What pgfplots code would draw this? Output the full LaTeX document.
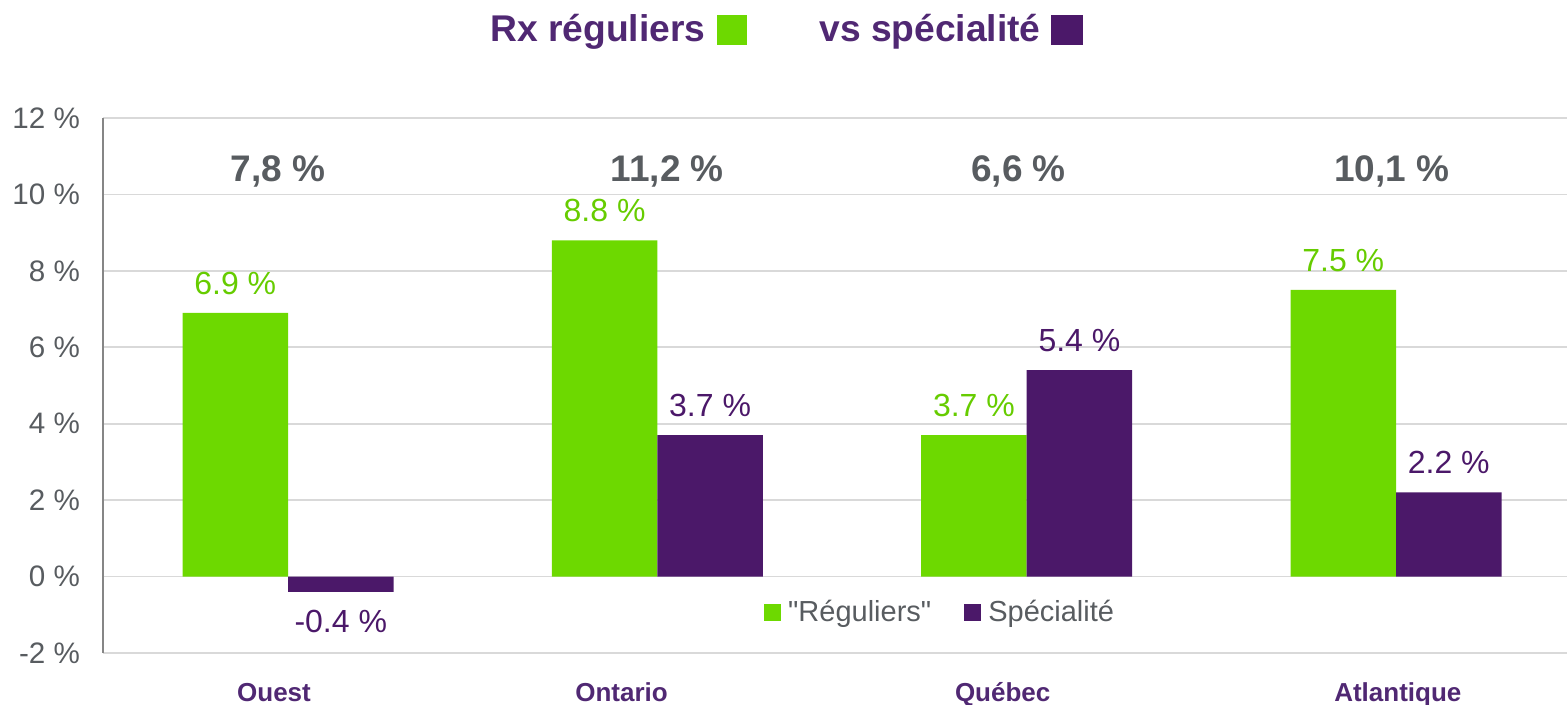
\documentclass[border=0pt]{standalone}
\usepackage{fontspec}
\setmainfont{Liberation Sans}
\usepackage{pgfplots}
\pgfplotsset{compat=1.18}

\definecolor{barvert}{RGB}{109,217,0}
\definecolor{barviolet}{RGB}{75,24,105}
\definecolor{valvert}{RGB}{102,204,0}
\definecolor{titreviolet}{RGB}{80,40,115}
\definecolor{textgris}{RGB}{88,92,96}
\definecolor{grille}{RGB}{217,217,217}
\definecolor{axegris}{RGB}{134,134,134}

\begin{document}
\begin{tikzpicture}
\useasboundingbox (-51.5pt,-26pt) rectangle (732pt,326.5pt);
\begin{axis}[
    scale only axis,
    width=732pt, height=267.5pt,
    xmin=-0.501, xmax=3.463,
    ymin=-2, ymax=12,
    ybar=0pt, bar width=52.75pt,
    xtick={-0.038,0.903,1.935,3.005},
    xticklabels={Ouest,Ontario,Québec,Atlantique},
    ytick={-2,0,...,12},
    major tick length=0pt,
    /pgf/number format/assume math mode=true,
    yticklabel={\pgfmathprintnumber{\tick}~\%},
    yticklabel style={font=\fontsize{14.8}{14.8}\selectfont, text=textgris, xshift=-8pt},
    xticklabel style={font=\bfseries\fontsize{13}{13}\selectfont, text=titreviolet, anchor=base, yshift=-24.5pt},
    axis lines*=left,
    axis line style={-},
    x axis line style={draw=grille, line width=0.8pt},
    y axis line style={draw=axegris, line width=1pt},
    ymajorgrids,
    grid style={draw=grille, line width=0.8pt},
    nodes near coords={\pgfmathprintnumber[fixed,fixed zerofill,precision=1]{\pgfplotspointmeta}~\%},
    nodes near coords style={font=\fontsize{16}{16}\selectfont, inner ysep=9pt},
    legend style={at={(0.5735,0.0766)}, anchor=center, draw=none, fill=none,
        font=\fontsize{14.5}{14.5}\selectfont, text=textgris,
        /tikz/every even column/.append style={column sep=13pt},
        nodes={inner xsep=3.5pt}},
    legend columns=2,
    legend image code/.code={\fill[#1] (0pt,-4.25pt) rectangle (8.5pt,4.25pt);},
]
\addplot[fill=barvert, draw=none, every node near coord/.append style={text=valvert}]
    coordinates {(0,6.9) (1,8.8) (2,3.7) (3,7.5)};
\addlegendentry{{\addfontfeature{Ligatures=TeXOff}"Réguliers"}}
\addplot[fill=barviolet, draw=none, every node near coord/.append style={text=barviolet}]
    coordinates {(0,-0.4) (1,3.7) (2,5.4) (3,2.2)};
\addlegendentry{Spécialité}

% totaux par région
\node[font=\bfseries\fontsize{18.5}{18.5}\selectfont, text=textgris] at (axis cs:-0.027,10.6) {7,8~\%};
\node[font=\bfseries\fontsize{18.5}{18.5}\selectfont, text=textgris] at (axis cs:1.027,10.6) {11,2~\%};
\node[font=\bfseries\fontsize{18.5}{18.5}\selectfont, text=textgris] at (axis cs:1.978,10.6) {6,6~\%};
\node[font=\bfseries\fontsize{18.5}{18.5}\selectfont, text=textgris] at (axis cs:2.989,10.6) {10,1~\%};
\end{axis}

% titre
\node[anchor=base west, inner sep=0pt, font=\bfseries\fontsize{18.6}{18.6}\selectfont, text=titreviolet]
    at (193.5pt,305.5pt)
    {Rx réguliers\hspace{6pt}\textcolor{barvert}{\raisebox{-1.5pt}{\rule{15pt}{15pt}}}\hspace{36pt}vs spécialité\hspace{5pt}\textcolor{barviolet}{\raisebox{-1.5pt}{\rule{16pt}{15pt}}}};
\end{tikzpicture}
\end{document}
